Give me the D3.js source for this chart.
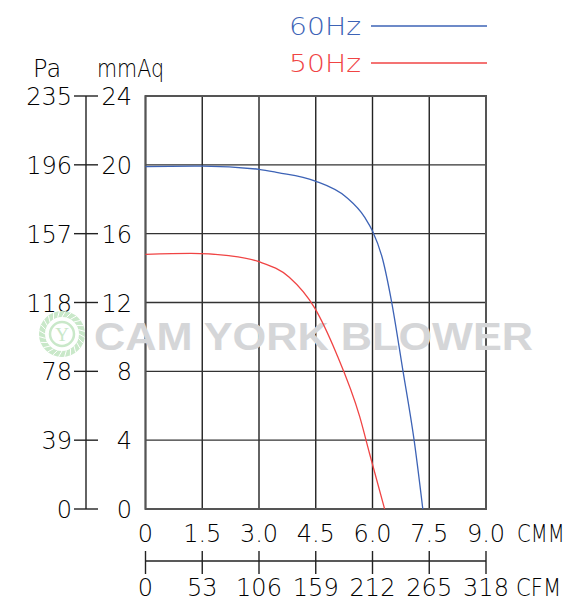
<!DOCTYPE html>
<html>
<head>
<meta charset="utf-8">
<script src="https://cdn.jsdelivr.net/npm/d3@7"></script>
<style>
  body { margin: 0; background: #fff; }
  svg text { font-family: "DejaVu Sans", sans-serif; font-weight: 200; }
</style>
</head>
<body>
<div id="chart"></div>
<script>
// performance curves: flow (CMM) vs static pressure (mmAq)
const flow60 = [0, 1.5, 3.0, 3.5, 4.47, 5.3, 5.8, 6.0, 6.27, 6.5, 6.8, 7.1, 7.33];
const pres60 = [19.9, 19.93, 19.74, 19.55, 19.07, 18.13, 16.93, 16.15, 14.5, 12.1, 8.1, 4.0, 0];
const flow50 = [0, 1.2, 2.2, 3.0, 3.8, 4.47, 5.04, 5.66, 5.92, 6.32];
const pres50 = [14.8, 14.86, 14.72, 14.37, 13.47, 11.69, 9.07, 5.38, 3.24, 0];

const cmmTicks = [0, 1.5, 3.0, 4.5, 6.0, 7.5, 9.0];
const cmmLabels = ["0", "1.5", "3.0", "4.5", "6.0", "7.5", "9.0"];
const cfmLabels = ["0", "53", "106", "159", "212", "265", "318"];
const mmTicks = [0, 4, 8, 12, 16, 20, 24];
const paLabels = ["0", "39", "78", "118", "157", "196", "235"];

const series = [
  { name: "60Hz", color: "#3d63b6", x: flow60, y: pres60 },
  { name: "50Hz", color: "#f04444", x: flow50, y: pres50 }
];

const W = 569, H = 602;
const svg = d3.select("#chart").append("svg")
  .attr("width", W)
  .attr("height", H);

const x = d3.scaleLinear().domain([0, 9]).range([145.5, 486]);
const y = d3.scaleLinear().domain([0, 24]).range([509, 96]);

// grid
const grid = svg.append("g");
grid.selectAll(".vg").data(cmmTicks).enter().append("line")
  .attr("x1", d => x(d)).attr("x2", d => x(d))
  .attr("y1", y(24)).attr("y2", y(0))
  .attr("stroke", "#222").attr("stroke-width", 1.4);
grid.selectAll(".hg").data(mmTicks).enter().append("line")
  .attr("x1", x(0)).attr("x2", x(9))
  .attr("y1", d => y(d)).attr("y2", d => y(d))
  .attr("stroke", "#333").attr("stroke-width", 1.4);
grid.append("rect")
  .attr("x", x(0)).attr("y", y(24))
  .attr("width", x(9) - x(0)).attr("height", y(0) - y(24))
  .attr("fill", "none").attr("stroke", "#555").attr("stroke-width", 2);

// mmAq labels
svg.append("g").selectAll("text").data(mmTicks).enter().append("text")
  .attr("x", 132).attr("y", d => y(d) + 9)
  .attr("text-anchor", "end").attr("font-size", 24)
  .text(d => d);

// Pa axis
const pa = svg.append("g");
pa.append("line").attr("x1", 86).attr("x2", 86)
  .attr("y1", y(24)).attr("y2", y(0))
  .attr("stroke", "#222").attr("stroke-width", 1.4);
pa.selectAll(".t").data(mmTicks).enter().append("line")
  .attr("x1", 74).attr("x2", 98)
  .attr("y1", d => y(d)).attr("y2", d => y(d))
  .attr("stroke", "#222").attr("stroke-width", 1.4);
pa.selectAll("text").data(mmTicks).enter().append("text")
  .attr("x", 72).attr("y", d => y(d) + 9)
  .attr("text-anchor", "end").attr("font-size", 24)
  .text((d, i) => paLabels[i]);

svg.append("text").attr("x", 33).attr("y", 77).attr("font-size", 24).text("Pa");
svg.append("text").attr("transform", "translate(97,77) scale(0.86,1)")
  .attr("font-size", 24).text("mmAq");

// CMM labels
svg.append("g").selectAll("text").data(cmmTicks).enter().append("text")
  .attr("x", d => x(d)).attr("y", 542)
  .attr("text-anchor", "middle").attr("font-size", 24)
  .text((d, i) => cmmLabels[i]);
svg.append("text").attr("transform", "translate(517,542) scale(0.82,1)")
  .attr("font-size", 24).text("CMM");

// CFM axis
const cfm = svg.append("g");
cfm.append("line").attr("x1", x(0)).attr("x2", x(9))
  .attr("y1", 561).attr("y2", 561)
  .attr("stroke", "#222").attr("stroke-width", 1.4);
cfm.selectAll(".t").data(cmmTicks).enter().append("line")
  .attr("x1", d => x(d)).attr("x2", d => x(d))
  .attr("y1", 551).attr("y2", 574)
  .attr("stroke", "#222").attr("stroke-width", 1.4);
cfm.selectAll("text").data(cmmTicks).enter().append("text")
  .attr("x", d => x(d)).attr("y", 596)
  .attr("text-anchor", "middle").attr("font-size", 24)
  .text((d, i) => cfmLabels[i]);
svg.append("text").attr("transform", "translate(516,596) scale(0.88,1)")
  .attr("font-size", 24).text("CFM");

// watermark
const wm = svg.append("g");
const lc = "#c9e8c9";
wm.append("circle").attr("cx", 62).attr("cy", 334).attr("r", 20)
  .attr("fill", "none").attr("stroke", lc).attr("stroke-width", 6);
wm.selectAll(".tooth").data(d3.range(24)).enter().append("line")
  .attr("x1", d => 62 + 17 * Math.cos(d * Math.PI / 12))
  .attr("y1", d => 334 + 17 * Math.sin(d * Math.PI / 12))
  .attr("x2", d => 62 + 23 * Math.cos(d * Math.PI / 12 + 0.15))
  .attr("y2", d => 334 + 23 * Math.sin(d * Math.PI / 12 + 0.15))
  .attr("stroke", "#fff").attr("stroke-width", 1);
wm.append("circle").attr("cx", 62).attr("cy", 334).attr("r", 12)
  .attr("fill", "none").attr("stroke", lc).attr("stroke-width", 2.5);
wm.append("text").attr("x", 62).attr("y", 341)
  .attr("text-anchor", "middle").attr("font-size", 19)
  .style("font-family", "'Liberation Serif', serif").style("font-weight", 400)
  .attr("fill", lc).text("Y");
wm.append("text").attr("x", 94).attr("y", 350)
  .attr("font-size", 38).attr("textLength", 439).attr("lengthAdjust", "spacingAndGlyphs")
  .style("font-family", "'Liberation Sans', Arial, sans-serif").style("font-weight", 700)
  .attr("fill", "#d5d6d8").text("CAM YORK BLOWER");

// curves
const line = d3.line().x(d => x(d[0])).y(d => y(d[1])).curve(d3.curveMonotoneX);
series.forEach(s => {
  svg.append("path")
    .datum(s.x.map((v, i) => [v, s.y[i]]))
    .attr("d", line)
    .attr("fill", "none").attr("stroke", s.color).attr("stroke-width", 1.3);
});

// legend
const leg = svg.append("g");
series.forEach((s, i) => {
  const ly = 26 + i * 37;
  leg.append("text").attr("x", 289).attr("y", ly + 8.5)
    .attr("font-size", 25).attr("fill", s.color)
    .attr("textLength", 72).attr("lengthAdjust", "spacingAndGlyphs").text(s.name);
  leg.append("line").attr("x1", 371).attr("x2", 487)
    .attr("y1", ly).attr("y2", ly)
    .attr("stroke", s.color).attr("stroke-width", 1.3);
});
</script>
</body>
</html>
